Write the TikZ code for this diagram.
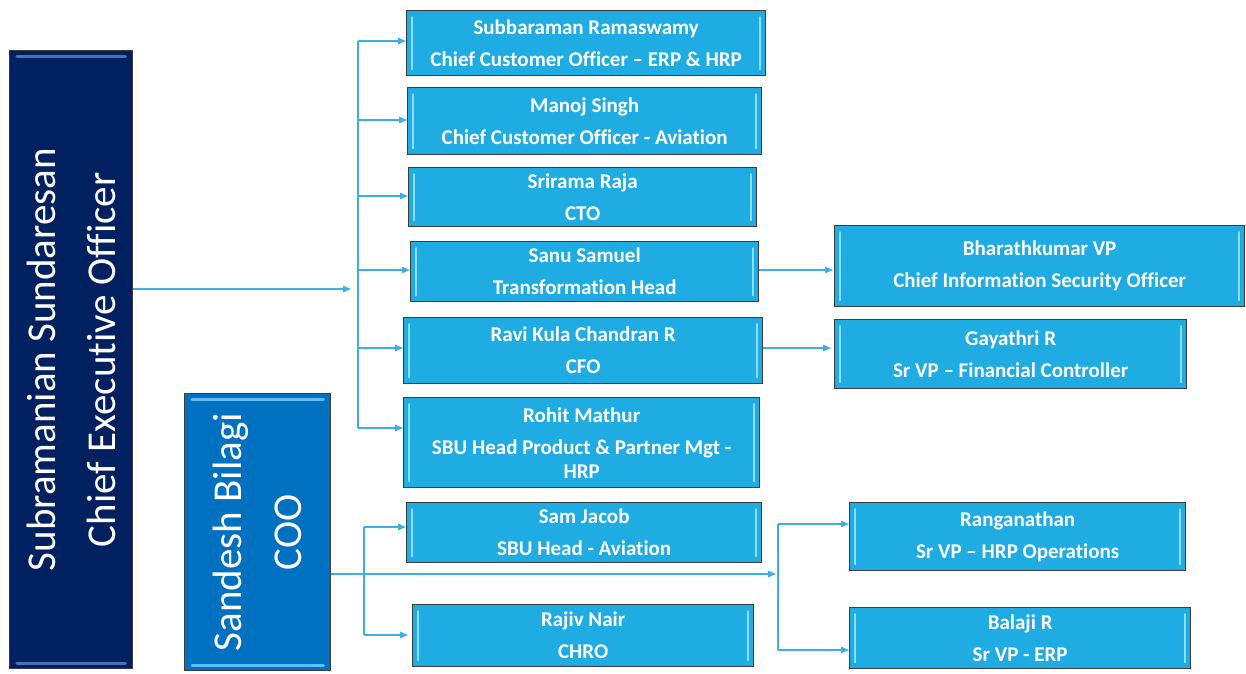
\documentclass[tikz,border=0pt]{standalone}
\usepackage{fontspec}
\setmainfont{Carlito}[Ligatures=NoCommon]
\usetikzlibrary{arrows.meta,calc}
\definecolor{pfill}{RGB}{30,172,226}
\definecolor{pedge}{RGB}{60,60,60}
\definecolor{phl}{RGB}{140,222,250}
\definecolor{ceofill}{RGB}{0,32,96}
\definecolor{ceohl}{RGB}{75,110,180}
\definecolor{coofill}{RGB}{0,112,192}
\definecolor{coohl}{RGB}{95,190,242}
\definecolor{conn}{RGB}{60,175,230}
\tikzset{
  pbox/.style={draw=pedge, line width=1.3pt, fill=pfill, rectangle, inner sep=0pt,
    anchor=north west, text=white, align=center,
    font=\bfseries\fontsize{21}{25}\selectfont},
  bigbox/.style={draw=pedge, line width=1.3pt, rectangle, inner sep=0pt, anchor=north west},
  bigtext/.style={rotate=90, text=white, align=center, inner sep=0pt,
    font=\fontsize{41}{60}\selectfont},
  sidehl/.style={draw=phl, line width=2pt, line cap=round},
  wire/.style={draw=conn, line width=1.2pt},
  arr/.style={wire, -{Triangle[length=8pt,width=6.5pt]}},
}
\begin{document}
\begin{tikzpicture}[x=1pt,y=-1pt]
\useasboundingbox (0,0) rectangle (1246,673);
% big boxes
\node[bigbox, fill=ceofill, minimum width=123pt, minimum height=618pt] (ceo) at (9,50) {};
\node[bigtext] (ceot) at (ceo.center) {Subramanian Sundaresan\\Chief Executive Officer};
\node[bigbox, fill=coofill, minimum width=146pt, minimum height=277pt] (coo) at (184,393) {};
\node[bigtext] (coot) at (coo.center) {Sandesh Bilagi\\COO};
\draw[draw=ceohl, line width=3pt, line cap=round] ([shift={(8,6)}]ceo.north west) -- ([shift={(-8,6)}]ceo.north east);
\draw[draw=ceohl, line width=3pt, line cap=round] ([shift={(8,-6)}]ceo.south west) -- ([shift={(-8,-6)}]ceo.south east);
\draw[draw=coohl, line width=3pt, line cap=round] ([shift={(8,6)}]coo.north west) -- ([shift={(-8,6)}]coo.north east);
\draw[draw=coohl, line width=3pt, line cap=round] ([shift={(8,-6)}]coo.south west) -- ([shift={(-8,-6)}]coo.south east);
% people boxes
\node[pbox, minimum width=359pt, minimum height=65pt] (sr) at (406,10) {Subbaraman Ramaswamy\\[7pt]Chief Customer Officer – ERP \& HRP};
\node[pbox, minimum width=354pt, minimum height=67pt] (ms) at (407,87) {Manoj Singh\\[7pt]Chief Customer Officer - Aviation};
\node[pbox, minimum width=348pt, minimum height=59pt] (rr) at (408,167) {Srirama Raja\\[7pt]CTO};
\node[pbox, minimum width=348pt, minimum height=60pt] (ss) at (410,241) {Sanu Samuel\\[7pt]Transformation Head};
\node[pbox, minimum width=359pt, minimum height=66pt] (rk) at (403,317) {Ravi Kula Chandran R\\[7pt]CFO};
\node[pbox, minimum width=356pt, minimum height=90pt] (rm) at (403,397) {Rohit Mathur\\[7pt]SBU Head Product \& Partner Mgt -\\[-1pt]HRP};
\node[pbox, minimum width=410pt, minimum height=81pt] (bk) at (834,225) {Bharathkumar VP\\[7pt]Chief Information Security Officer};
\node[pbox, minimum width=352pt, minimum height=69pt] (gr) at (834,319) {Gayathri R\\[7pt]Sr VP – Financial Controller};
\node[pbox, minimum width=355pt, minimum height=60pt] (sj) at (406,502) {Sam Jacob\\[7pt]SBU Head - Aviation};
\node[pbox, minimum width=341pt, minimum height=62pt] (rn) at (412,604) {Rajiv Nair\\[7pt]CHRO};
\node[pbox, minimum width=336pt, minimum height=68pt] (rg) at (849,502) {Ranganathan\\[7pt]Sr VP – HRP Operations};
\node[pbox, minimum width=341pt, minimum height=61pt] (br) at (849,607) {Balaji R\\[7pt]Sr VP - ERP};
% side highlights
\foreach \b in {sr,ms,rr,ss,rk,rm,bk,gr,sj,rn,rg,br}{
  \draw[sidehl] ([shift={(6,7)}]\b.north west) -- ([shift={(6,-7)}]\b.south west);
  \draw[sidehl] ([shift={(-6,7)}]\b.north east) -- ([shift={(-6,-7)}]\b.south east);
}
% CEO connectors
\coordinate (ceoin) at (351,289);
\coordinate (j1) at (358,41);
\coordinate (j2) at (358,120);
\coordinate (j3) at (358,196);
\coordinate (j4) at (358,270);
\coordinate (j5) at (358,348);
\coordinate (j6) at (358,428);
\draw[arr] (ceo.east |- ceoin) -- (ceoin);
\draw[wire] (j1) -- (j6);
\draw[arr] (j1) -- (j1 -| sr.west);
\draw[arr] (j2) -- (j2 -| ms.west);
\draw[arr] (j3) -- (j3 -| rr.west);
\draw[arr] (j4) -- (j4 -| ss.west);
\draw[arr] (j5) -- (j5 -| rk.west);
\draw[arr] (j6) -- (j6 -| rm.west);
\draw[arr, shorten >=1pt] (ss.east |- j4) -- (j4 -| bk.west);
\draw[arr, shorten >=3pt] (rk.east |- j5) -- (j5 -| gr.west);
% COO connectors
\coordinate (cooin) at (776,574);
\coordinate (k1) at (778,524);
\coordinate (k2) at (778,650);
\coordinate (m1) at (364,527);
\coordinate (m2) at (364,635);
\draw[arr] (coo.east |- cooin) -- (cooin);
\draw[wire] (k1) -- (k2);
\draw[arr] (k1) -- (k1 -| rg.west);
\draw[arr] (k2) -- (k2 -| br.west);
\draw[wire] (m1) -- (m2);
\draw[arr] (m1) -- (m1 -| sj.west);
\draw[arr, shorten >=4pt] (m2) -- (m2 -| rn.west);
\end{tikzpicture}
\end{document}
